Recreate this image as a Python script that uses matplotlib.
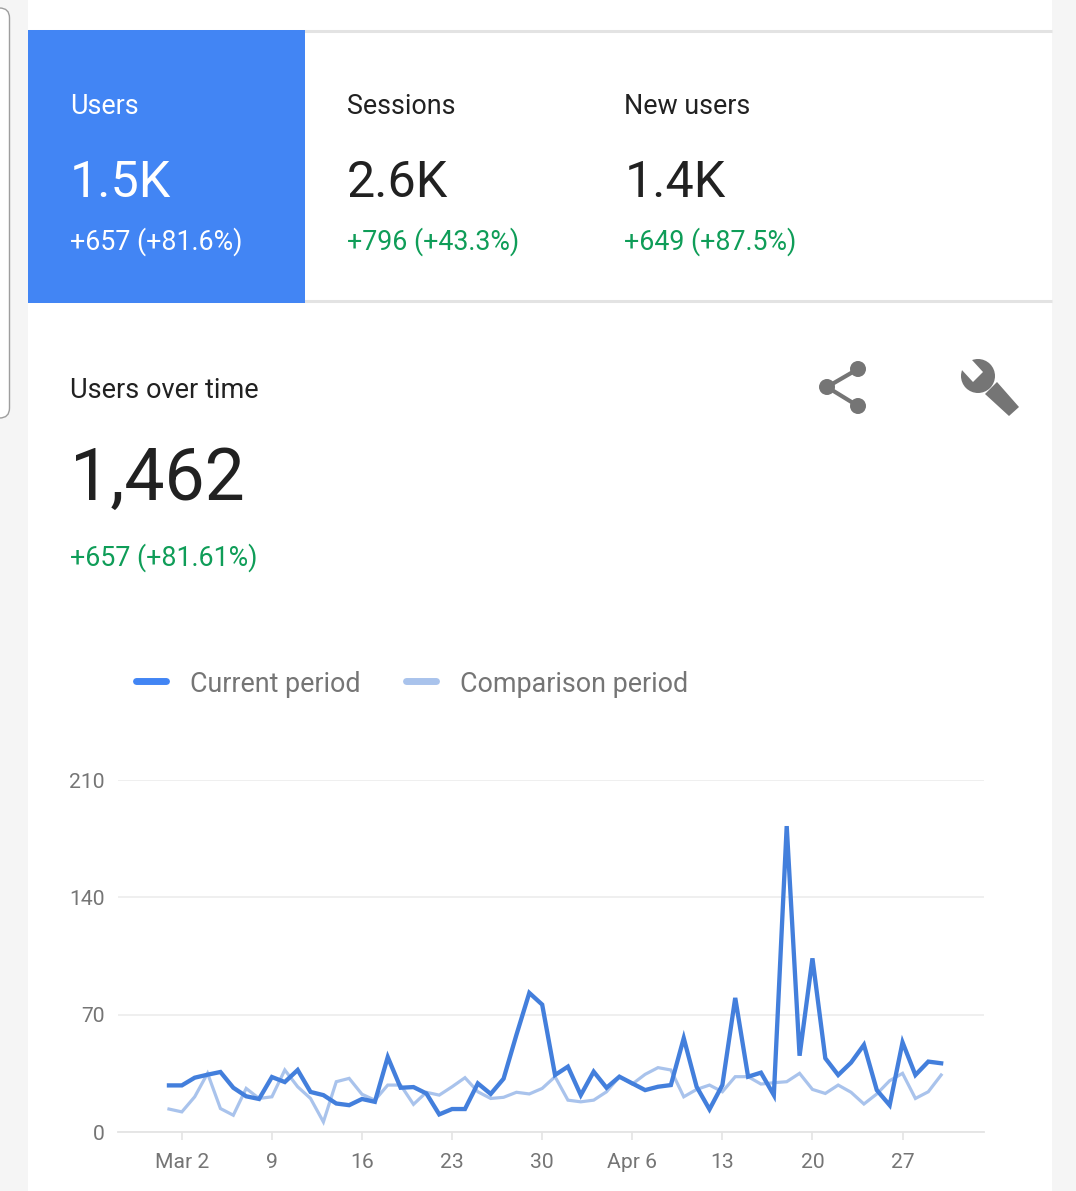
"""Users over time card from the analytics app."""

import matplotlib
matplotlib.use('Agg')
import matplotlib.pyplot as plt
from matplotlib.patches import Circle, FancyBboxPatch, Polygon, Rectangle

plt.rcParams['font.family'] = ['Roboto', 'DejaVu Sans']

# Chart data, one value per day starting Mar 1
current_period = [
    27.8, 27.8, 32.4, 34.2, 35.8, 26.4, 21.3, 19.7, 32.8, 29.8,
    37, 23.9, 22, 17, 16, 19.7, 18, 44.7, 26.4, 26.8,
    23, 10.5, 13.7, 13.7, 29, 22.7, 31.8, 58, 83, 76,
    34, 39, 22, 36, 26.4, 33, 29, 25, 27, 28,
    56, 27, 13.5, 28, 80, 33, 35.4, 22, 182.5, 45.5,
    103.6, 44, 34, 41.4, 52, 25, 16, 53.5, 34, 42, 41,
]
comparison_period = [
    13.7, 12, 21, 35, 14, 10, 26, 20, 21, 37,
    27, 20, 6, 30, 32, 22.5, 19, 28, 28, 16.5,
    23.7, 22, 27, 32.4, 24, 20, 20.7, 23.7, 22.7, 26,
    33, 19, 18, 19, 24, 33, 28.6, 34.4, 38.4, 37,
    21, 25.4, 28, 24, 33, 33, 28.6, 29.4, 30, 35,
    25.4, 23, 28, 23.7, 16.7, 22.7, 30.6, 35, 20, 24, 34,
]
tick_days = [1, 8, 15, 22, 29, 36, 43, 50, 57]
tick_labels = ['Mar 2', '9', '16', '23', '30', 'Apr 6', '13', '20', '27']
y_ticks = [0, 70, 140, 210]

# Header tiles
tile_names = ['Users', 'Sessions', 'New users']
tile_values = ['1.5K', '2.6K', '1.4K']
tile_changes = ['+657 (+81.6%)', '+796 (+43.3%)', '+649 (+87.5%)']
tile_x = [70, 347, 624.5]

W, H = 1076, 1191
BLUE = '#4285f4'
LINE_BLUE = '#437fdc'
LIGHT_BLUE = '#a9c3ec'
DARK = '#212121'
GREY = '#757575'
GREEN = '#0f9d58'

fig = plt.figure(figsize=(W / 100, H / 100), dpi=100, facecolor='#f5f5f5')

# Page layer in pixel coordinates
page = fig.add_axes([0, 0, 1, 1])
page.set_xlim(0, W)
page.set_ylim(H, 0)
page.axis('off')

page.add_patch(FancyBboxPatch((-30, 8), 39.5, 410, boxstyle='round,pad=0,rounding_size=10',
                              facecolor='white', edgecolor='#9e9e9e', linewidth=1))
page.add_patch(Rectangle((28, 0), 1024, H, facecolor='white', edgecolor='none'))
page.plot([28, 1052], [31, 31], color='#e3e3e3', linewidth=2.2, solid_capstyle='butt')
page.plot([28, 1052], [301, 301], color='#e3e3e3', linewidth=2.2, solid_capstyle='butt')
page.add_patch(Rectangle((28, 30), 277, 272.5, facecolor=BLUE, edgecolor='none', zorder=2))

for i, (name, value, change, x) in enumerate(zip(tile_names, tile_values, tile_changes, tile_x)):
    selected = i == 0
    page.text(x, 114, name, color='white' if selected else DARK, fontsize=19.4, va='baseline', zorder=3)
    page.text(x, 197, value, color='white' if selected else DARK, fontsize=36.2, va='baseline', zorder=3)
    page.text(x, 250, change, color='white' if selected else GREEN, fontsize=19.3, va='baseline', zorder=3)

page.text(70, 398, 'Users over time', color=DARK, fontsize=19.5, va='baseline')
page.text(70, 499.5, '1,462', color=DARK, fontsize=51.5, va='baseline')
page.text(70, 566, '+657 (+81.61%)', color=GREEN, fontsize=19.3, va='baseline')

# Share icon
share = [(858, 369), (827, 387), (858, 406)]
page.plot(*zip(*share), color=GREY, linewidth=3)
for center in share:
    page.add_patch(Circle(center, 8, facecolor=GREY, edgecolor='none'))

# Wrench icon
page.add_patch(Circle((978, 376), 17, facecolor=GREY, edgecolor='none'))
page.add_patch(Polygon([(985, 394), (997, 382), (1019, 407), (1009, 416)], facecolor=GREY, edgecolor='none'))
page.add_patch(Polygon([(961, 348), (983, 372), (973, 382), (949, 356)], facecolor='white', edgecolor='none'))

# Legend
page.plot([136, 166], [681, 681], color=BLUE, linewidth=5, solid_capstyle='round')
page.plot([406, 436], [681, 681], color=LIGHT_BLUE, linewidth=5, solid_capstyle='round')
page.text(190, 692, 'Current period', color=GREY, fontsize=19.4, va='baseline')
page.text(460, 692, 'Comparison period', color=GREY, fontsize=19.4, va='baseline')

# Chart, axes rectangle from the pixel box of the plot area
ax = fig.add_axes([118 / W, 1 - 1132 / H, 866 / W, 352 / H])
ax.patch.set_alpha(0)
days = range(len(current_period))
ax.plot(days, comparison_period, color=LIGHT_BLUE, linewidth=2.3, solid_joinstyle='miter', zorder=3)
ax.plot(days, current_period, color=LINE_BLUE, linewidth=3.1, solid_joinstyle='miter', zorder=4)

ax.set_xlim(-3.96, 63.33)
ax.set_ylim(0, 210)
ax.set_xticks(tick_days, tick_labels)
ax.set_yticks(y_ticks)
ax.grid(axis='y', color='#eeeeee', linewidth=1.3, zorder=0)
for side in ['top', 'right', 'left']:
    ax.spines[side].set_visible(False)
ax.spines['bottom'].set_color('#e4e4e4')
ax.spines['bottom'].set_linewidth(1.3)
ax.tick_params(axis='x', length=6, width=1.2, color='#e4e4e4', pad=9, labelcolor=GREY, labelsize=15.2)
ax.tick_params(axis='y', length=0, pad=9.5, labelcolor=GREY, labelsize=15.2)

fig.savefig('out.png', dpi=100, facecolor=fig.get_facecolor())
